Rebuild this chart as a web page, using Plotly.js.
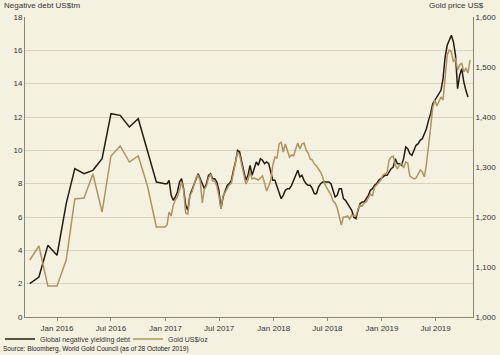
<!DOCTYPE html>
<html>
<head>
<meta charset="utf-8">
<script src="https://cdn.plot.ly/plotly-3.0.1.min.js"></script>
<style>
  html, body { margin: 0; padding: 0; background: #f4f1e1; }
  #chart { width: 500px; height: 355px; }
</style>
</head>
<body>
<div id="chart"></div>
<script>
// ---- Data ----
// Monthly readings, Oct 2015 - Dec 2016
const monthlyDates = ['2015-10-01','2015-11-01','2015-12-01','2016-01-01','2016-02-01','2016-03-01',
  '2016-04-01','2016-05-01','2016-06-01','2016-07-01','2016-08-01','2016-09-01','2016-10-01',
  '2016-11-01','2016-12-01','2016-12-30'];
const debtMonthly = [2.0,2.4,4.3,3.7,6.8,8.9,8.6,8.8,9.5,12.2,12.1,11.4,11.9,9.9,8.1,8.0];
const goldMonthly = [1114,1142,1062,1062,1114,1236,1238,1286,1210,1322,1342,1310,1322,1262,1180,1180];

// Weekly readings, from 6 Jan 2017 to 25 Oct 2019
const weeklyStart = '2017-01-06';
const debtWeekly = [8.0,8.2,7.3,7.0,7.2,7.5,8.1,8.3,7.7,6.7,
  6.4,7.3,7.6,7.9,8.3,8.6,8.3,8.0,7.7,8.0,
  8.5,8.6,8.3,8.3,8.1,7.6,6.5,7.2,7.6,7.9,
  8.0,8.2,8.8,9.3,10.0,9.9,9.3,8.8,8.2,8.5,
  9.1,8.5,8.9,9.3,9.1,9.5,9.4,9.2,9.3,9.2,
  8.7,8.2,8.2,7.8,7.4,7.1,7.3,7.6,7.7,7.7,
  7.9,8.2,8.5,8.8,8.4,8.5,8.2,8.0,7.9,7.9,
  7.7,7.4,7.4,7.8,8.0,8.1,8.1,8.1,8.1,8.0,
  7.6,7.2,7.3,7.7,7.7,7.1,7.0,6.8,6.6,6.4,
  6.0,5.9,6.4,6.8,6.9,6.9,7.1,7.3,7.6,7.7,
  7.9,8.0,8.2,8.3,8.4,8.5,8.5,8.7,8.9,9.0,
  9.5,9.2,9.2,9.1,9.5,10.2,10.1,9.8,9.7,10.0,
  10.3,10.4,10.6,10.7,11.0,11.3,11.8,12.2,12.8,13.0,
  13.2,13.4,13.6,14.3,15.6,16.3,16.6,16.9,16.5,15.7,
  13.7,14.5,14.9,14.1,13.6,13.2,null];
const goldWeekly = [1184,1210,1202,1224,1234,1240,1254,1270,1254,1208,
  1206,1242,1250,1262,1278,1284,1272,1228,1256,1262,
  1278,1286,1272,1272,1262,1242,1216,1242,1250,1258,
  1264,1268,1290,1312,1330,1324,1302,1284,1266,1274,
  1290,1276,1278,1276,1274,1278,1282,1268,1252,1262,
  1274,1304,1320,1318,1346,1350,1330,1346,1330,1320,
  1324,1322,1336,1348,1336,1346,1348,1334,1328,1316,
  1314,1306,1302,1296,1290,1280,1266,1258,1250,1244,
  1232,1228,1218,1202,1184,1200,1200,1202,1196,1204,
  1202,1202,1216,1224,1222,1228,1230,1238,1246,1242,
  1260,1264,1270,1274,1284,1286,1288,1314,1320,1322,
  1304,1296,1304,1308,1298,1310,1308,1282,1278,1276,
  1278,1286,1294,1290,1280,1306,1338,1378,1418,1434,
  1422,1430,1440,1434,1474,1524,1534,1530,1510,1518,
  1494,1504,1508,1490,1498,1488,1514];

const xTickVals = ['2016-01-01','2016-07-01','2017-01-01','2017-07-01','2018-01-01','2018-07-01','2019-01-01','2019-07-01'];
const xTickText = ['Jan 2016','Jul 2016','Jan 2017','Jul 2017','Jan 2018','Jul 2018','Jan 2019','Jul 2019'];
const seriesNames = ['Global negative yielding debt', 'Gold US$/oz'];

// ---- Build weekly date axis ----
function weeklyDates(start, n) {
  const out = [];
  const d0 = new Date(start + 'T00:00:00Z');
  for (let i = 0; i < n; i++) {
    const d = new Date(d0.getTime() + i * 7 * 86400000);
    out.push(d.toISOString().slice(0, 10));
  }
  return out;
}
const wDates = weeklyDates(weeklyStart, debtWeekly.length);
const allDates = monthlyDates.concat(wDates);

const FONT = '"Liberation Sans", Arial, sans-serif';
const AXIS_COL = '#8c8676';

const traces = [
  {
    x: allDates, y: debtMonthly.concat(debtWeekly), name: seriesNames[0],
    type: 'scatter', mode: 'lines', yaxis: 'y',
    line: { color: '#261c12', width: 1.5 }, connectgaps: false
  },
  {
    x: allDates, y: goldMonthly.concat(goldWeekly), name: seriesNames[1],
    type: 'scatter', mode: 'lines', yaxis: 'y2',
    line: { color: '#ad9460', width: 1.5 }
  }
];

const layout = {
  width: 500, height: 355,
  margin: { l: 25, r: 27, t: 17, b: 38, pad: 0, autoexpand: false },
  paper_bgcolor: '#f4f1e1', plot_bgcolor: '#f4f1e1',
  font: { family: FONT, size: 8, color: '#333' },
  showlegend: true,
  legend: {
    orientation: 'h', x: -0.0558, xanchor: 'left', y: -0.073, yanchor: 'middle',
    font: { family: FONT, size: 7, color: '#333' }, bgcolor: 'rgba(0,0,0,0)',
    itemwidth: 30, tracegroupgap: 0, borderwidth: 0, entrywidth: 83
  },
  xaxis: {
    type: 'date', range: ['2015-09-15', '2019-11-04'],
    tickmode: 'array', tickvals: xTickVals, ticktext: xTickText,
    ticks: 'outside', ticklen: 3, tickcolor: AXIS_COL,
    showline: true, linecolor: AXIS_COL, linewidth: 1,
    showgrid: false, zeroline: false, automargin: false,
    tickfont: { family: FONT, size: 8, color: '#333' }
  },
  yaxis: {
    range: [0, 18], dtick: 2, tick0: 0,
    showgrid: true, gridcolor: '#d8d3bd', gridwidth: 1,
    showline: true, linecolor: AXIS_COL, linewidth: 1,
    zeroline: false, ticks: '', automargin: false,
    tickfont: { family: FONT, size: 8, color: '#333' }
  },
  yaxis2: {
    overlaying: 'y', side: 'right',
    range: [1000, 1600], dtick: 100, tick0: 1000, tickformat: ',',
    showgrid: false, showline: true, linecolor: AXIS_COL, linewidth: 1,
    zeroline: false, ticks: '', automargin: false,
    tickfont: { family: FONT, size: 8, color: '#333' }
  },
  annotations: [
    { text: 'Negative debt US$tm', xref: 'paper', yref: 'paper', x: -0.051, y: 1.037,
      xanchor: 'left', yanchor: 'middle', showarrow: false,
      font: { family: FONT, size: 8, color: '#333' } },
    { text: 'Gold price US$', xref: 'paper', yref: 'paper', x: 1.029, y: 1.037,
      xanchor: 'right', yanchor: 'middle', showarrow: false,
      font: { family: FONT, size: 8, color: '#333' } },
    { text: 'Source: Bloomberg, World Gold Council (as of 28 October 2019)', xref: 'paper', yref: 'paper',
      x: -0.053, y: -0.107, xanchor: 'left', yanchor: 'middle', showarrow: false,
      font: { family: FONT, size: 6.5, color: '#222' } }
  ]
};

Plotly.newPlot('chart', traces, layout, { displayModeBar: false, staticPlot: true });
</script>
</body>
</html>
